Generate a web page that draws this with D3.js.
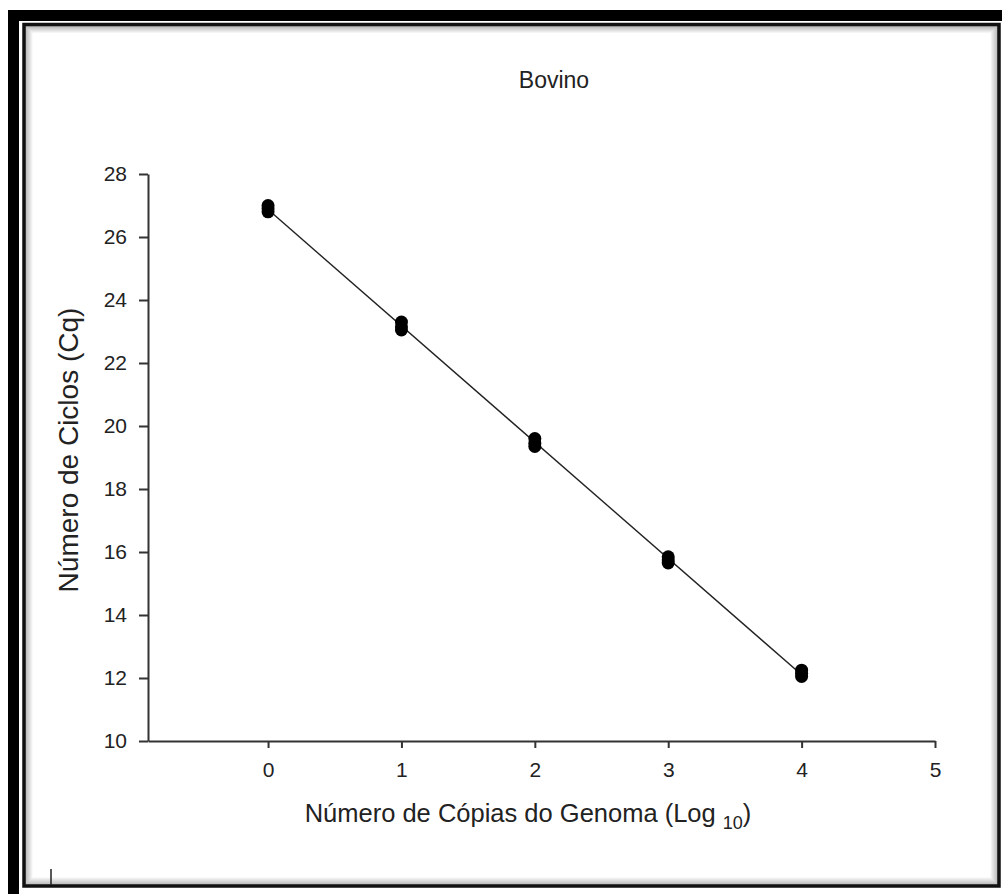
<!DOCTYPE html>
<html>
<head>
<meta charset="utf-8">
<script src="https://cdn.jsdelivr.net/npm/d3@7"></script>
<style>
  body { margin:0; background:#fff; }
  text { font-family: "Liberation Sans", Arial, sans-serif; fill:#222; }
</style>
</head>
<body>
<div id="chart"></div>
<script>
// replicate Cq values for each log10 copy number
var logCopies = [0, 1, 2, 3, 4];
var cqRep1 = [26.8, 23.05, 19.35, 15.65, 12.05];
var cqRep2 = [26.9, 23.15, 19.45, 15.75, 12.15];
var cqRep3 = [27.0, 23.3, 19.6, 15.85, 12.25];
var xTicks = [0, 1, 2, 3, 4, 5];
var yTicks = [10, 12, 14, 16, 18, 20, 22, 24, 26, 28];

var W = 1002, H = 894;
var svg = d3.select("#chart").append("svg").attr("width", W).attr("height", H);

// frame: outer thick black border, then inner line with soft shadow
svg.append("rect").attr("x", 13.5).attr("y", 15.5).attr("width", 1002).attr("height", 884)
   .attr("fill", "none").attr("stroke", "#000").attr("stroke-width", 11);
var shadowSteps = 8;
for (var s = shadowSteps; s >= 1; s--) {
  svg.append("rect")
     .attr("x", 24 + s).attr("y", 24.5 + s)
     .attr("width", 975 - 2 * s).attr("height", 861.5 - 2 * s)
     .attr("fill", "none").attr("stroke", "#000")
     .attr("stroke-opacity", 0.32 * (shadowSteps - s + 1) / shadowSteps)
     .attr("stroke-width", 1);
}
svg.append("rect").attr("x", 24).attr("y", 24.5).attr("width", 975).attr("height", 861.5)
   .attr("fill", "none").attr("stroke", "#111").attr("stroke-width", 3.5);
svg.append("line").attr("x1", 51).attr("x2", 51).attr("y1", 869).attr("y2", 885)
   .attr("stroke", "#222").attr("stroke-width", 1.5);

var x = d3.scaleLinear().domain([-0.9, 5]).range([148, 935]);
var y = d3.scaleLinear().domain([10, 28]).range([741, 174]);

// axes
var xAxis = svg.append("g").attr("transform", "translate(0,741)")
   .call(d3.axisBottom(x).tickValues(xTicks).tickFormat(d3.format("d"))
         .tickSize(7).tickPadding(14).tickSizeOuter(0));
var yAxis = svg.append("g").attr("transform", "translate(148,0)")
   .call(d3.axisLeft(y).tickValues(yTicks).tickFormat(d3.format("d"))
         .tickSize(9).tickPadding(12).tickSizeOuter(0));
[xAxis, yAxis].forEach(function(g) {
  g.select(".domain").attr("stroke", "#333").attr("stroke-width", 2);
  g.selectAll(".tick line").attr("stroke", "#333").attr("stroke-width", 2);
  g.selectAll(".tick text").style("font-size", "21px").attr("fill", "#222");
});

// linear fit through all replicates
var pts = [];
logCopies.forEach(function(v, i) {
  [cqRep1, cqRep2, cqRep3].forEach(function(r) { pts.push([v, r[i]]); });
});
var mx = d3.mean(pts, function(d) { return d[0]; });
var my = d3.mean(pts, function(d) { return d[1]; });
var slope = d3.sum(pts, function(d) { return (d[0] - mx) * (d[1] - my); }) /
            d3.sum(pts, function(d) { return (d[0] - mx) * (d[0] - mx); });
var icpt = my - slope * mx;
var x0 = d3.min(logCopies), x1 = d3.max(logCopies);
svg.append("line")
   .attr("x1", x(x0)).attr("y1", y(icpt + slope * x0))
   .attr("x2", x(x1)).attr("y2", y(icpt + slope * x1))
   .attr("stroke", "#222").attr("stroke-width", 1.4);

svg.selectAll("circle.pt").data(pts).enter().append("circle")
   .attr("class", "pt")
   .attr("cx", function(d) { return x(d[0]); })
   .attr("cy", function(d) { return y(d[1]); })
   .attr("r", 6.5).attr("fill", "#000");

// titles
svg.append("text").attr("x", 554).attr("y", 88).attr("text-anchor", "middle")
   .style("font-size", "23px").text("Bovino");

var xl = svg.append("text").attr("x", 528).attr("y", 822).attr("text-anchor", "middle")
   .style("font-size", "25.5px");
xl.append("tspan").text("Número de Cópias do Genoma (Log ");
xl.append("tspan").attr("dy", 7).style("font-size", "18px").text("10");
xl.append("tspan").attr("dy", -7).text(")");

svg.append("text").attr("transform", "translate(78,450) rotate(-90)")
   .attr("text-anchor", "middle").style("font-size", "28px")
   .text("Número de Ciclos (Cq)");
</script>
</body>
</html>
